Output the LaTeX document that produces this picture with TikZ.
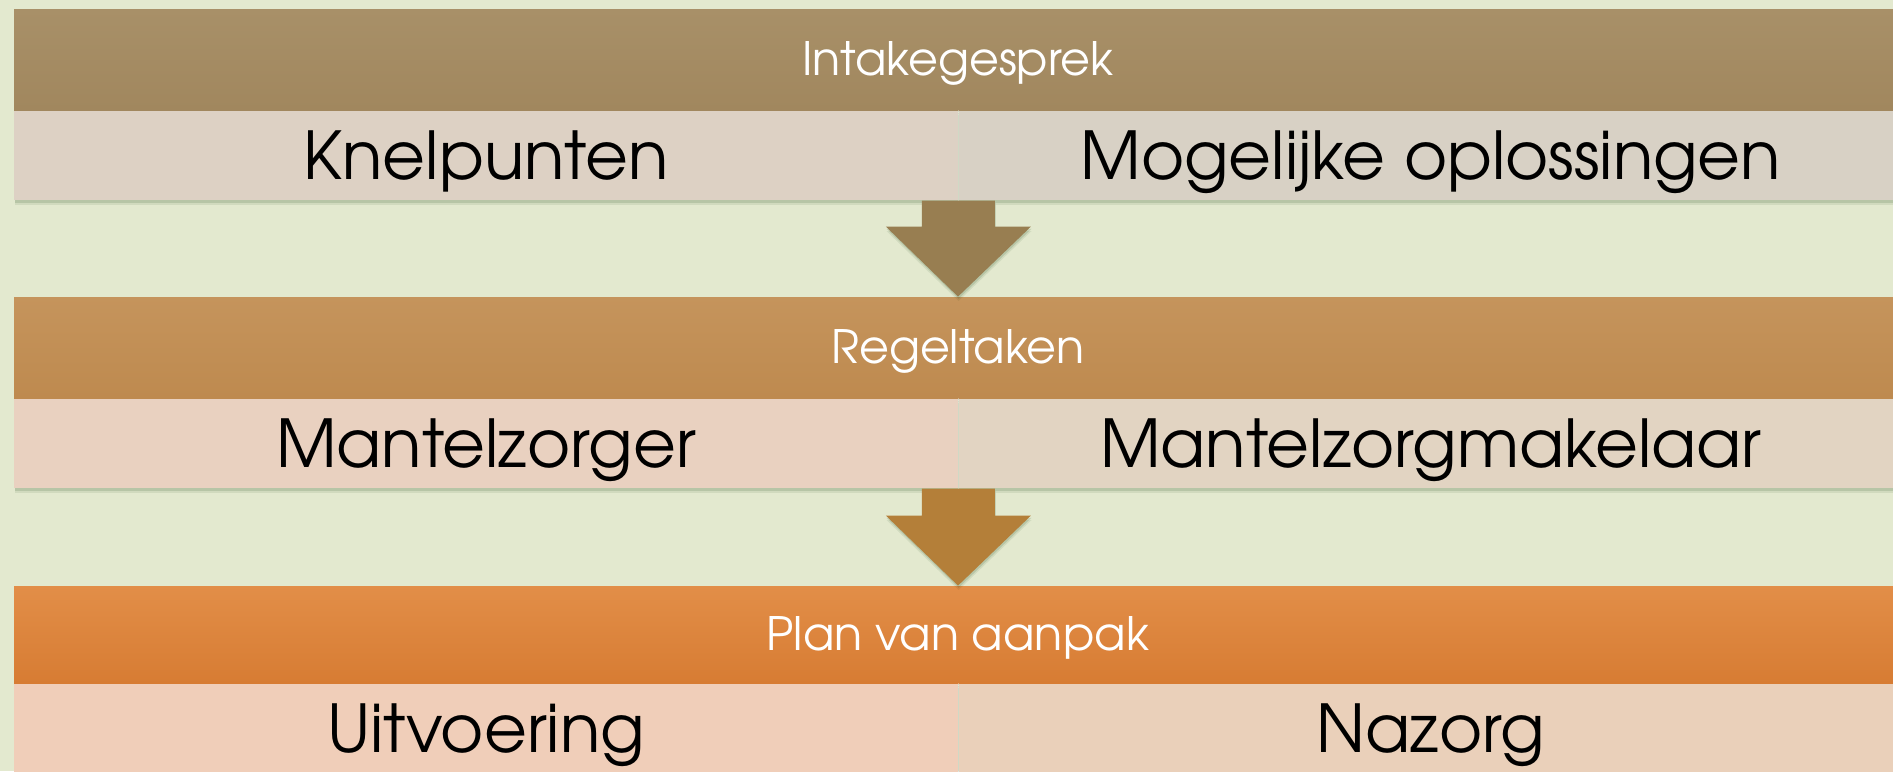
\documentclass[tikz,border=0pt]{standalone}
\usepackage{fontspec}
\setmainfont{TeX Gyre Adventor}
\usetikzlibrary{positioning,shadows,calc}

\definecolor{achtergrond}{HTML}{E3E9CF}
\definecolor{kopA}{HTML}{A89068}\definecolor{kopAb}{HTML}{A1875E}
\definecolor{kopB}{HTML}{C5945C}\definecolor{kopBb}{HTML}{BE8A4F}
\definecolor{kopC}{HTML}{E28E48}\definecolor{kopCb}{HTML}{D77C33}
\definecolor{vakAl}{HTML}{DDD1C4}\definecolor{vakAr}{HTML}{D8D1C5}
\definecolor{vakBl}{HTML}{E9D1C0}\definecolor{vakBr}{HTML}{E2D4C2}
\definecolor{vakCl}{HTML}{F0CEB9}\definecolor{vakCr}{HTML}{EAD0BA}
\definecolor{pijlA}{HTML}{987E51}
\definecolor{pijlB}{HTML}{B47F39}

\newcommand{\stappijl}[3]{%
\fill[#3, schaduw] let \p1=(#1), \p2=(#2) in
  (\x1-18.25pt,\y1) -- (\x1+18.25pt,\y1) -- (\x1+18.25pt,\y2+35pt) -- (\x1+36.25pt,\y2+35pt)
  -- (\p2) -- (\x1-36.25pt,\y2+35pt) -- (\x1-18.25pt,\y2+35pt) -- cycle;}

\begin{document}
\begin{tikzpicture}[x=0.5pt,y=-0.5pt,
  schaduw/.style={drop shadow={shadow xshift=0.3pt, shadow yshift=-2.2pt, opacity=0.08, fill=black!80!green},
    drop shadow={shadow xshift=0.3pt, shadow yshift=-1.1pt, opacity=0.12, fill=black!80!green}},
  kop/.style={rectangle, inner sep=0pt, minimum width=944pt, minimum height=50.5pt, schaduw,
    text=white, font=\fontsize{23}{23}\selectfont, text height=15.5pt, text depth=0pt},
  vak/.style={rectangle, inner sep=0pt, minimum width=472pt, minimum height=44.75pt, schaduw,
    text=black, font=\fontsize{33}{33}\selectfont, text height=23.5pt, text depth=0pt},
  scheiding/.style={white, opacity=0.35, line width=0.5pt}]
\clip (0,0) rectangle (1893,771);
\fill[achtergrond] (0,0) rectangle (1893,771);

\node[kop, top color=kopA, bottom color=kopAb] (h1) at (958,59.5) {Intakegesprek};
\node[vak, fill=vakAl, below right=0pt of h1.south west] (s1l) {Knelpunten};
\node[vak, fill=vakAr, right=0pt of s1l] (s1r) {Mogelijke oplossingen};
\draw[scheiding] (s1l.north east) -- (s1l.south east);

\node[kop, top color=kopB, bottom color=kopBb] (h2) at (958,347.5) {Regeltaken};
\node[vak, fill=vakBl, below right=0pt of h2.south west] (s2l) {Mantelzorger};
\node[vak, fill=vakBr, right=0pt of s2l] (s2r) {Mantelzorgmakelaar};
\draw[scheiding] (s2l.north east) -- (s2l.south east);

\node[kop, minimum height=48.5pt, top color=kopC, bottom color=kopCb] (h3) at (958,634.5) {Plan van aanpak};
\node[vak, fill=vakCl, below right=0pt of h3.south west] (s3l) {Uitvoering};
\node[vak, fill=vakCr, right=0pt of s3l] (s3r) {Nazorg};
\draw[scheiding] (s3l.north east) -- (s3l.south east);

\stappijl{s1r.south west}{h2.north}{pijlA}
\stappijl{s2r.south west}{h3.north}{pijlB}
\end{tikzpicture}
\end{document}
